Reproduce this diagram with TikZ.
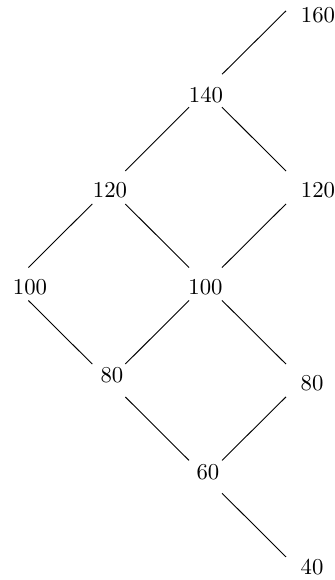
\documentclass[tikz,border=0pt]{standalone}
\begin{document}
\begin{tikzpicture}[x=0.44pt,y=-0.44pt,
  lbl/.style={inner sep=0pt},
  edge/.style={draw=black,line width=0.4pt,shorten >=10.26pt,shorten <=10.26pt}]
\useasboundingbox (0,0) rectangle (335,580);
% lattice points
\coordinate (a160) at (302.5,-5.5);
\coordinate (a140) at (205.5,90.7);
\coordinate (a120l) at (108.8,187.5);
\coordinate (a120r) at (302.5,187.5);
\coordinate (a100l) at (11.8,284);
\coordinate (a100m) at (205.5,284);
\coordinate (a80l) at (108.8,380.5);
\coordinate (a80r) at (302.5,380.5);
\coordinate (a60) at (205.5,476.8);
\coordinate (a40) at (302.5,573.3);
% labels
\node[lbl] (n160) at (318,15) {160};
\node[lbl] (n140) at (206,95) {140};
\node[lbl] (n120l) at (110,190) {120};
\node[lbl] (n120r) at (318,190) {120};
\node[lbl] (n100l) at (30,287) {100};
\node[lbl] (n100m) at (205.5,287) {100};
\node[lbl] (n80l) at (112,375) {80};
\node[lbl] (n80r) at (312,383) {80};
\node[lbl] (n60) at (208,472) {60};
\node[lbl] (n40) at (312,567) {40};
% connectors
\draw[edge] (a160) -- (a140);
\draw[edge] (a140) -- (a120l);
\draw[edge] (a140) -- (a120r);
\draw[edge] (a120l) -- (a100l);
\draw[edge] (a120l) -- (a100m);
\draw[edge] (a120r) -- (a100m);
\draw[edge] (a100l) -- (a80l);
\draw[edge] (a100m) -- (a80l);
\draw[edge] (a100m) -- (a80r);
\draw[edge] (a80l) -- (a60);
\draw[edge] (a80r) -- (a60);
\draw[edge] (a60) -- (a40);
\end{tikzpicture}
\end{document}
